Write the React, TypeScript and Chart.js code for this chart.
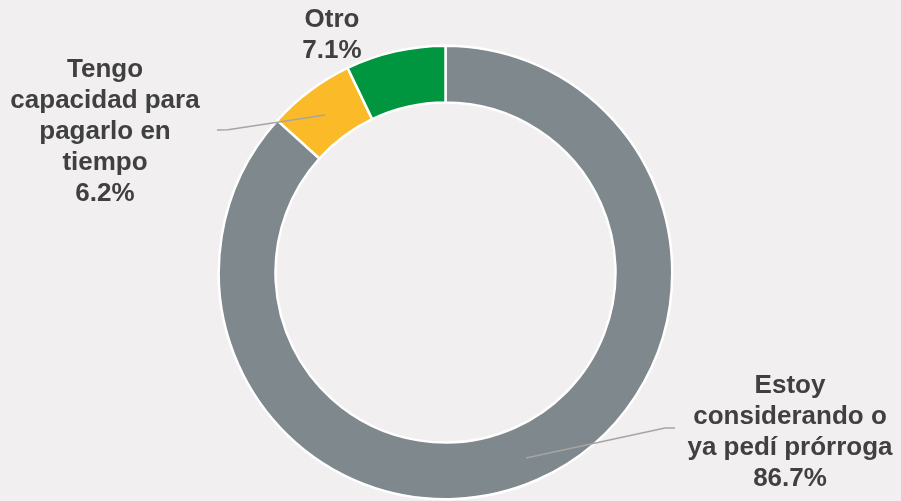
import React, { useEffect, useRef } from "react";
import { Chart, registerables } from "chart.js";

Chart.register(...registerables);

const categories: string[][] = [
  ["Estoy", "considerando o", "ya pedí prórroga"],
  ["Tengo", "capacidad para", "pagarlo en", "tiempo"],
  ["Otro"],
];
const values: number[] = [86.7, 6.2, 7.1];
const colors: string[] = ["#7f888d", "#fbbb29", "#00963f"];

const BG = "#f1eff0";
const TEXT = "#404040";
const FONT = 'bold 26px "Liberation Sans", Arial, sans-serif';

// label placement: center x, first baseline y, leader line points
const labelLayout = [
  { x: 790, y: 393, line: [[675, 428], [665, 428], [526, 458]] },
  { x: 105, y: 77, line: [[217, 130], [228, 129.7], [325, 115]] },
  { x: 332, y: 27, line: null as number[][] | null },
];

const labelPlugin = {
  id: "outLabels",
  afterDraw(chart: any) {
    const ctx = chart.ctx;
    ctx.save();
    labelLayout.forEach((lay, i) => {
      if (lay.line) {
        ctx.beginPath();
        ctx.strokeStyle = "#a5a5a5";
        ctx.lineWidth = 1.5;
        lay.line.forEach((p, j) => (j === 0 ? ctx.moveTo(p[0], p[1]) : ctx.lineTo(p[0], p[1])));
        ctx.stroke();
      }
      ctx.fillStyle = TEXT;
      ctx.font = FONT;
      ctx.textAlign = "center";
      ctx.textBaseline = "alphabetic";
      const lines = [...categories[i], values[i].toFixed(1) + "%"];
      lines.forEach((t, k) => ctx.fillText(t, lay.x, lay.y + k * 31));
    });
    ctx.restore();
  },
};

const bgPlugin = {
  id: "bg",
  beforeDraw(chart: any) {
    const ctx = chart.ctx;
    ctx.save();
    ctx.fillStyle = BG;
    ctx.fillRect(0, 0, chart.width, chart.height);
    ctx.restore();
  },
};

export default function App() {
  const ref = useRef<HTMLCanvasElement | null>(null);
  useEffect(() => {
    document.body.style.margin = "0";
    document.body.style.background = BG;
    const chart = new Chart(ref.current as HTMLCanvasElement, {
      type: "doughnut",
      data: {
        labels: categories.map((c) => c.join(" ")),
        datasets: [
          {
            data: values,
            backgroundColor: colors,
            borderColor: "#ffffff",
            borderWidth: 2.5,
          },
        ],
      },
      options: {
        responsive: false,
        animation: false,
        cutout: 170,
        layout: { padding: { left: 217.5, right: 227.5, top: 44.5, bottom: 0.5 } },
        plugins: { legend: { display: false }, tooltip: { enabled: false } },
      },
      plugins: [bgPlugin, labelPlugin],
    });
    return () => chart.destroy();
  }, []);
  return (
    <div style={{ width: 901, height: 501, background: BG }}>
      <canvas ref={ref} width={901} height={501} style={{ display: "block" }} />
    </div>
  );
}
